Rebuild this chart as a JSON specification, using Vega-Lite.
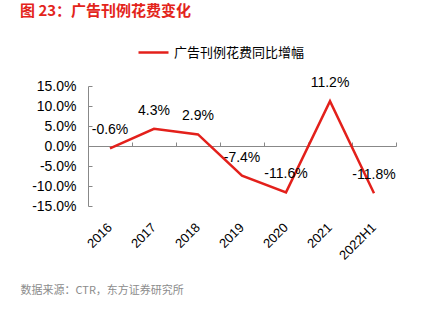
{
  "$schema": "https://vega.github.io/schema/vega-lite/v6.json",
  "width": 308,
  "height": 120,
  "autosize": {"type": "none"},
  "padding": {"left": 88, "top": 86, "right": 37, "bottom": 119},
  "background": "white",
  "config": {
    "view": {"stroke": null},
    "locale": {"number": {"decimal": ".", "thousands": ",", "grouping": [3], "currency": ["$", ""], "minus": "-"}}
  },
  "title": {
    "text": "图 23：广告刊例花费变化",
    "anchor": "start",
    "frame": "group",
    "font": "Noto Sans CJK SC",
    "fontSize": 15,
    "fontWeight": "bold",
    "color": "#e3241b",
    "dx": -68,
    "dy": -7,
    "offset": 10
  },
  "data": {
    "values": [
      {"year": "2016", "value": -0.006, "series": "广告刊例花费同比增幅"},
      {"year": "2017", "value": 0.043, "series": "广告刊例花费同比增幅"},
      {"year": "2018", "value": 0.029, "series": "广告刊例花费同比增幅"},
      {"year": "2019", "value": -0.074, "series": "广告刊例花费同比增幅"},
      {"year": "2020", "value": -0.116, "series": "广告刊例花费同比增幅"},
      {"year": "2021", "value": 0.112, "series": "广告刊例花费同比增幅"},
      {"year": "2022H1", "value": -0.118, "series": "广告刊例花费同比增幅"}
    ]
  },
  "resolve": {"axis": {"x": "independent"}},
  "layer": [
    {
      "mark": {"type": "line", "strokeWidth": 2.5},
      "encoding": {
        "x": {
          "field": "year",
          "type": "ordinal",
          "bandPosition": 0.5,
          "scale": {"type": "band", "paddingInner": 0, "paddingOuter": 0},
          "axis": {
            "domain": false,
            "ticks": false,
            "labelAngle": -45,
            "labelAlign": "right",
            "labelBaseline": "middle",
            "labelPadding": 19,
            "labelFont": "Liberation Sans",
            "labelFontSize": 13,
            "labelColor": "#000000",
            "title": "数据来源：CTR，东方证券研究所",
            "titleFont": "Noto Sans CJK SC",
            "titleFontSize": 11,
            "titleFontWeight": "normal",
            "titleColor": "#8c8c8c",
            "titleAlign": "left",
            "titleBaseline": "middle",
            "titleAnchor": "start",
            "titleX": -68,
            "titleY": 84
          }
        },
        "y": {
          "field": "value",
          "type": "quantitative",
          "scale": {"domain": [-0.15, 0.15], "nice": false, "zero": false},
          "axis": {
            "values": [-0.15, -0.1, -0.05, 0, 0.05, 0.1, 0.15],
            "format": ".1%",
            "grid": false,
            "title": null,
            "domainColor": "#888888",
            "tickColor": "#888888",
            "tickSize": -4,
            "labelPadding": 16,
            "labelFont": "Liberation Sans",
            "labelFontSize": 14,
            "labelColor": "#000000"
          }
        },
        "color": {
          "field": "series",
          "type": "nominal",
          "scale": {"range": ["#e3201b"]},
          "legend": {
            "title": null,
            "orient": "none",
            "legendX": 49,
            "legendY": -50,
            "symbolType": "stroke",
            "symbolSize": 900,
            "symbolStrokeWidth": 2.5,
            "labelFont": "Noto Sans CJK SC",
            "labelFontSize": 13,
            "labelColor": "#000000",
            "labelOffset": 4
          }
        }
      }
    },
    {
      "mark": {"type": "text", "dy": -18, "font": "Liberation Sans", "fontSize": 14, "color": "#000000"},
      "encoding": {
        "x": {
          "field": "year",
          "type": "ordinal",
          "bandPosition": 0.5,
          "axis": {
            "labels": false,
            "title": null,
            "offset": -60,
            "tickBand": "extent",
            "domainColor": "#888888",
            "tickColor": "#888888",
            "tickSize": 4
          }
        },
        "y": {
          "field": "value",
          "type": "quantitative",
          "axis": {
            "values": [-0.15, -0.1, -0.05, 0, 0.05, 0.1, 0.15],
            "format": ".1%",
            "grid": false,
            "title": null,
            "domainColor": "#888888",
            "tickColor": "#888888",
            "tickSize": -4,
            "labelPadding": 16,
            "labelFont": "Liberation Sans",
            "labelFontSize": 14,
            "labelColor": "#000000"
          }
        },
        "text": {"field": "value", "type": "quantitative", "format": ".1%"}
      }
    }
  ]
}
